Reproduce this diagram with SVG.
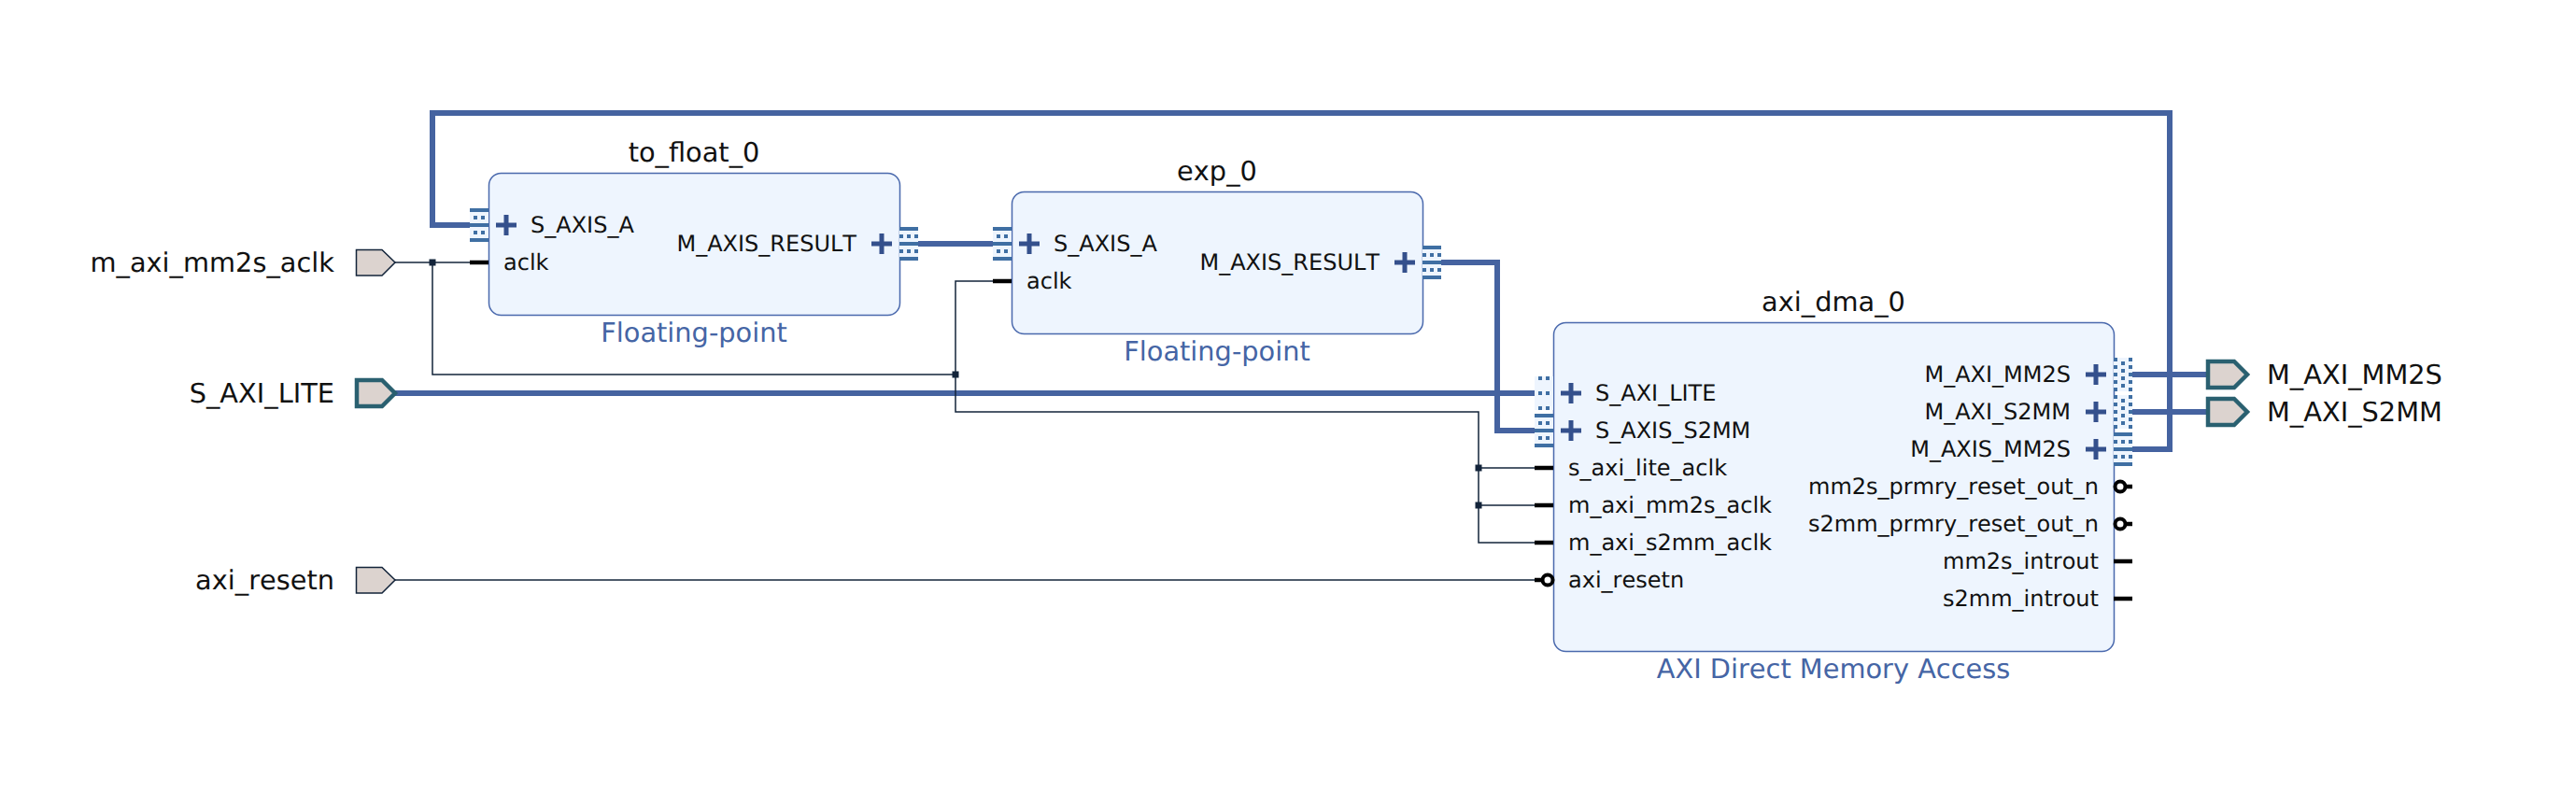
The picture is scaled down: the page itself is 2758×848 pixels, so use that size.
<svg xmlns="http://www.w3.org/2000/svg" xmlns:xlink="http://www.w3.org/1999/xlink" width="2758" height="848" viewBox="0 0 2758 848">
<style>
text{font-family:"DejaVu Sans",sans-serif;fill:#111;font-kerning:none;text-rendering:geometricPrecision}
.pin{font-size:24px}
.ext{font-size:28.800px}
.title{font-size:28.800px;text-anchor:middle}
.sub{font-size:28.800px;text-anchor:middle;fill:#4565a5}
.end{text-anchor:end}
.box{fill:#eef5fe;stroke:#4a69ad;stroke-width:1.5}
.bus{fill:none;stroke:#4563a0;stroke-width:6}
.net{fill:none;stroke:#13243a;stroke-width:1.5}
.stub{stroke:#000;stroke-width:4.5;fill:none}
.plus{stroke:#34508c;stroke-width:5;fill:none}
.pbus{fill:#dcd3cf;stroke:#2a6070;stroke-width:4.5}
.pnet{fill:#dcd3cf;stroke:#13243a;stroke-width:1.5}
.bub{fill:#fff;stroke:#000;stroke-width:4}
.jn{fill:#13243a}
.ib{fill:#3f6fa3}
.ibg{fill:#eef5fe}
</style>
<defs>
<rect id="dots" class="ib" x="-2" y="-2" width="4" height="4"/>
<g id="iconS"><rect class="ibg" x="0" y="-18" width="20" height="36"/><rect class="ib" y="-18" width="20" height="4"/><rect class="ib" y="-2" width="20" height="4"/><rect class="ib" y="14" width="20" height="4"/><use xlink:href="#dots" x="6" y="-8"/><use xlink:href="#dots" x="14" y="-8"/><use xlink:href="#dots" x="6" y="8"/><use xlink:href="#dots" x="14" y="8"/></g>
<g id="iconMi"><rect class="ibg" x="0" y="-18" width="20" height="36"/><rect class="ib" y="-18" width="20" height="4"/><rect class="ib" y="-2" width="20" height="4"/><rect class="ib" y="14" width="20" height="4"/><use xlink:href="#dots" x="2" y="-8"/><use xlink:href="#dots" x="10" y="-8"/><use xlink:href="#dots" x="18" y="-8"/><use xlink:href="#dots" x="2" y="8"/><use xlink:href="#dots" x="10" y="8"/><use xlink:href="#dots" x="18" y="8"/></g>
<g id="iconD"><rect class="ibg" x="0" y="-18" width="20" height="36"/><use xlink:href="#dots" x="6" y="-16"/><use xlink:href="#dots" x="14" y="-16"/><use xlink:href="#dots" x="6" y="0"/><use xlink:href="#dots" x="14" y="0"/><use xlink:href="#dots" x="6" y="16"/><use xlink:href="#dots" x="14" y="16"/></g>
<g id="iconDM"><rect class="ibg" x="0" y="-18" width="20" height="36"/><use xlink:href="#dots" x="2" y="-16"/><use xlink:href="#dots" x="18" y="-16"/><use xlink:href="#dots" x="2" y="-8"/><use xlink:href="#dots" x="18" y="-8"/><use xlink:href="#dots" x="2" y="0"/><use xlink:href="#dots" x="18" y="0"/><use xlink:href="#dots" x="2" y="8"/><use xlink:href="#dots" x="18" y="8"/><use xlink:href="#dots" x="2" y="16"/><use xlink:href="#dots" x="18" y="16"/><use xlink:href="#dots" x="10" y="-12"/><use xlink:href="#dots" x="10" y="-4"/><use xlink:href="#dots" x="10" y="4"/><use xlink:href="#dots" x="10" y="12"/></g>
<path id="plus" class="plus" d="M-11 0H11M0-11V11"/>
</defs>
<g id="connectors">
<path class="bus" d="M2283 481H2323V121H463V241H503"/>
<path class="bus" d="M983 261H1063"/>
<path class="bus" d="M1543 281H1603V461H1643"/>
<path class="bus" d="M423 421H1643"/>
<path class="bus" d="M2283 401H2362"/>
<path class="bus" d="M2283 441H2362"/>
<path class="net" d="M423 281H503"/>
<path class="net" d="M463 281V401H1023"/>
<path class="net" d="M1063 301H1023V441H1583V581H1643"/>
<path class="net" d="M1583 501H1643"/>
<path class="net" d="M1583 541H1643"/>
<path class="net" d="M423 621H1643"/>
<rect class="jn" x="459.500" y="277.500" width="7" height="7"/>
<rect class="jn" x="1019.500" y="397.500" width="7" height="7"/>
<rect class="jn" x="1579.500" y="497.500" width="7" height="7"/>
<rect class="jn" x="1579.500" y="537.500" width="7" height="7"/>
</g>
<g id="to_float_0">
<rect class="box" x="523.500" y="185.500" width="440" height="152" rx="13"/>
<text class="title" x="743" y="173">to_float_0</text>
<text class="sub" x="743" y="366">Floating-point</text>
<use xlink:href="#iconS" x="503" y="241"/><use xlink:href="#plus" x="542" y="241"/>
<text class="pin" x="568" y="249">S_AXIS_A</text>
<path class="stub" d="M503 281H523"/>
<text class="pin" x="539" y="289">aclk</text>
<text class="pin end" x="917" y="269">M_AXIS_RESULT</text>
<use xlink:href="#plus" x="944" y="261"/><use xlink:href="#iconMi" x="963" y="261"/>
</g>
<g id="exp_0">
<rect class="box" x="1083.500" y="205.500" width="440" height="152" rx="13"/>
<text class="title" x="1303" y="193">exp_0</text>
<text class="sub" x="1303" y="386">Floating-point</text>
<use xlink:href="#iconS" x="1063" y="261"/><use xlink:href="#plus" x="1102" y="261"/>
<text class="pin" x="1128" y="269">S_AXIS_A</text>
<path class="stub" d="M1063 301H1083"/>
<text class="pin" x="1099" y="309">aclk</text>
<text class="pin end" x="1477" y="289">M_AXIS_RESULT</text>
<use xlink:href="#plus" x="1504" y="281"/><use xlink:href="#iconMi" x="1523" y="281"/>
</g>
<g id="axi_dma_0">
<rect class="box" x="1663.500" y="345.500" width="600" height="352" rx="13"/>
<text class="title" x="1963" y="333">axi_dma_0</text>
<text class="sub" x="1963" y="726">AXI Direct Memory Access</text>
<use xlink:href="#iconD" x="1643" y="421"/><use xlink:href="#plus" x="1682" y="421"/>
<text class="pin" x="1708" y="429">S_AXI_LITE</text>
<use xlink:href="#iconS" x="1643" y="461"/><use xlink:href="#plus" x="1682" y="461"/>
<text class="pin" x="1708" y="469">S_AXIS_S2MM</text>
<path class="stub" d="M1643 501H1663M1643 541H1663M1643 581H1663M1643 621H1652"/>
<circle class="bub" cx="1657" cy="621" r="5.500"/>
<text class="pin" x="1679" y="509">s_axi_lite_aclk</text>
<text class="pin" x="1679" y="549">m_axi_mm2s_aclk</text>
<text class="pin" x="1679" y="589">m_axi_s2mm_aclk</text>
<text class="pin" x="1679" y="629">axi_resetn</text>
<text class="pin end" x="2217" y="409">M_AXI_MM2S</text>
<use xlink:href="#plus" x="2244" y="401"/><use xlink:href="#iconDM" x="2263" y="401"/>
<text class="pin end" x="2217" y="449">M_AXI_S2MM</text>
<use xlink:href="#plus" x="2244" y="441"/><use xlink:href="#iconDM" x="2263" y="441"/>
<text class="pin end" x="2217" y="489">M_AXIS_MM2S</text>
<use xlink:href="#plus" x="2244" y="481"/><use xlink:href="#iconMi" x="2263" y="481"/>
<text class="pin end" x="2247" y="529">mm2s_prmry_reset_out_n</text>
<text class="pin end" x="2247" y="569">s2mm_prmry_reset_out_n</text>
<text class="pin end" x="2247" y="609">mm2s_introut</text>
<text class="pin end" x="2247" y="649">s2mm_introut</text>
<path class="stub" d="M2276 521H2283M2276 561H2283M2263 601H2283M2263 641H2283"/>
<circle class="bub" cx="2270" cy="521" r="5.500"/>
<circle class="bub" cx="2270" cy="561" r="5.500"/>
</g>
<g id="port_m_axi_mm2s_aclk">
<path class="pnet" d="M381.500 267.500H409L423 281L409 295H381.500Z"/>
<text class="ext end" x="358" y="291">m_axi_mm2s_aclk</text>
</g>
<g id="port_S_AXI_LITE">
<path class="pbus" d="M382 407H409L423 421L409 435H382Z"/>
<text class="ext end" x="358" y="431">S_AXI_LITE</text>
</g>
<g id="port_axi_resetn">
<path class="pnet" d="M381.500 607.500H409L423 621L409 635H381.500Z"/>
<text class="ext end" x="358" y="631">axi_resetn</text>
</g>
<g id="port_M_AXI_MM2S">
<path class="pbus" d="M2364 387H2392L2406 401L2392 415H2364Z"/>
<text class="ext" x="2427" y="411">M_AXI_MM2S</text>
</g>
<g id="port_M_AXI_S2MM">
<path class="pbus" d="M2364 427H2392L2406 441L2392 455H2364Z"/>
<text class="ext" x="2427" y="451">M_AXI_S2MM</text>
</g>
</svg>
